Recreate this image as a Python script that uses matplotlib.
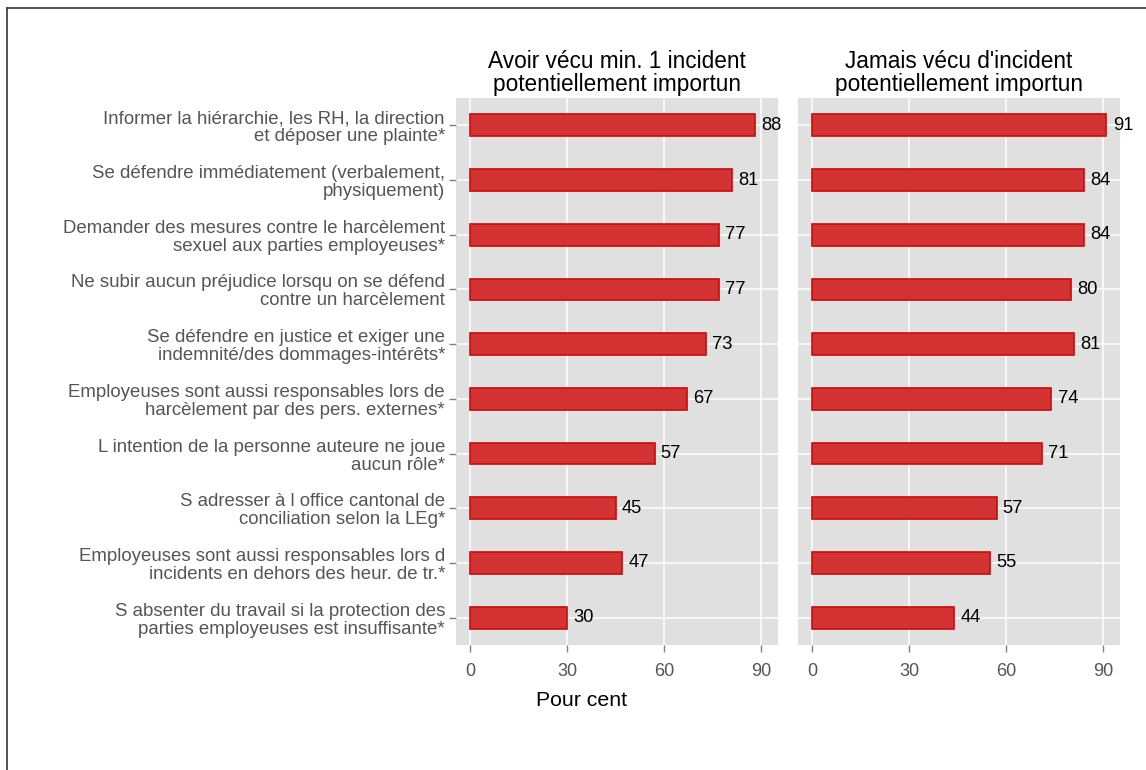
import matplotlib
matplotlib.use("Agg")
import matplotlib.pyplot as plt
from matplotlib.lines import Line2D

plt.rcParams['font.family'] = ['Liberation Sans', 'DejaVu Sans']

categories = [
    "Informer la hiérarchie, les RH, la direction\net déposer une plainte*",
    "Se défendre immédiatement (verbalement,\nphysiquement)",
    "Demander des mesures contre le harcèlement\nsexuel aux parties employeuses*",
    "Ne subir aucun préjudice lorsqu on se défend\ncontre un harcèlement",
    "Se défendre en justice et exiger une\nindemnité/des dommages-intérêts*",
    "Employeuses sont aussi responsables lors de\nharcèlement par des pers. externes*",
    "L intention de la personne auteure ne joue\naucun rôle*",
    "S adresser à l office cantonal de\nconciliation selon la LEg*",
    "Employeuses sont aussi responsables lors d\nincidents en dehors des heur. de tr.*",
    "S absenter du travail si la protection des\nparties employeuses est insuffisante*",
]
vecu = [88, 81, 77, 77, 73, 67, 57, 45, 47, 30]
jamais = [91, 84, 84, 80, 81, 74, 71, 57, 55, 44]
panel_titles = ["Avoir vécu min. 1 incident\npotentiellement importun",
                "Jamais vécu d'incident\npotentiellement importun"]
xticks = [0, 30, 60, 90]
xlabel = "Pour cent"

W, H = 1146, 770
fig = plt.figure(figsize=(W / 100, H / 100), dpi=100)

# outer border (top and left only visible)
fig.add_artist(Line2D([7 / W, 1.0], [1 - 8 / H, 1 - 8 / H], color="#333333", lw=1.2))
fig.add_artist(Line2D([7 / W, 7 / W], [0, 1 - 8 / H], color="#333333", lw=1.2))

bottom = 1 - 645 / H
height = (645 - 98) / H
lefts = [456 / W, 798 / W]
width = 322 / W

ypos = list(range(len(categories)))
grey = "#555555"

for i, (vals, title) in enumerate(zip([vecu, jamais], panel_titles)):
    ax = fig.add_axes([lefts[i], bottom, width, height])
    ax.set_facecolor("#E0E0E0")
    for s in ax.spines.values():
        s.set_visible(False)
    ax.barh(ypos, vals, height=0.4, color="#D43333", edgecolor="#CC0A0A", linewidth=1.2, zorder=3)
    for y, v in zip(ypos, vals):
        ax.annotate(str(v), (v, y), xytext=(4.5, 0), textcoords="offset points",
                    va="center", ha="left", fontsize=13.2, color="black", zorder=4)
    ax.set_xlim(-4.4, 95.2)
    ax.set_ylim(len(categories) - 0.5, -0.5)
    ax.set_xticks(xticks)
    ax.set_yticks(ypos)
    ax.grid(True, color="white", lw=1.1, zorder=0)
    ax.set_axisbelow(True)
    ax.tick_params(axis="both", colors="#7F7F7F", length=5, width=1,
                   labelcolor=grey, labelsize=13)
    ax.tick_params(axis="x", pad=8)
    ax.tick_params(axis="y", pad=3)
    if i == 0:
        ax.set_yticklabels(categories, fontsize=13.4, color=grey, linespacing=1.08)
    else:
        ax.tick_params(axis="y", length=0, labelleft=False)
    ax.set_title(title, fontsize=16.3, color="black", linespacing=1.0, pad=5)

fig.text(582 / W, 1 - 701 / H, xlabel, fontsize=15.3, color="black", ha="center", va="center")

fig.savefig("out.png", dpi=100)
